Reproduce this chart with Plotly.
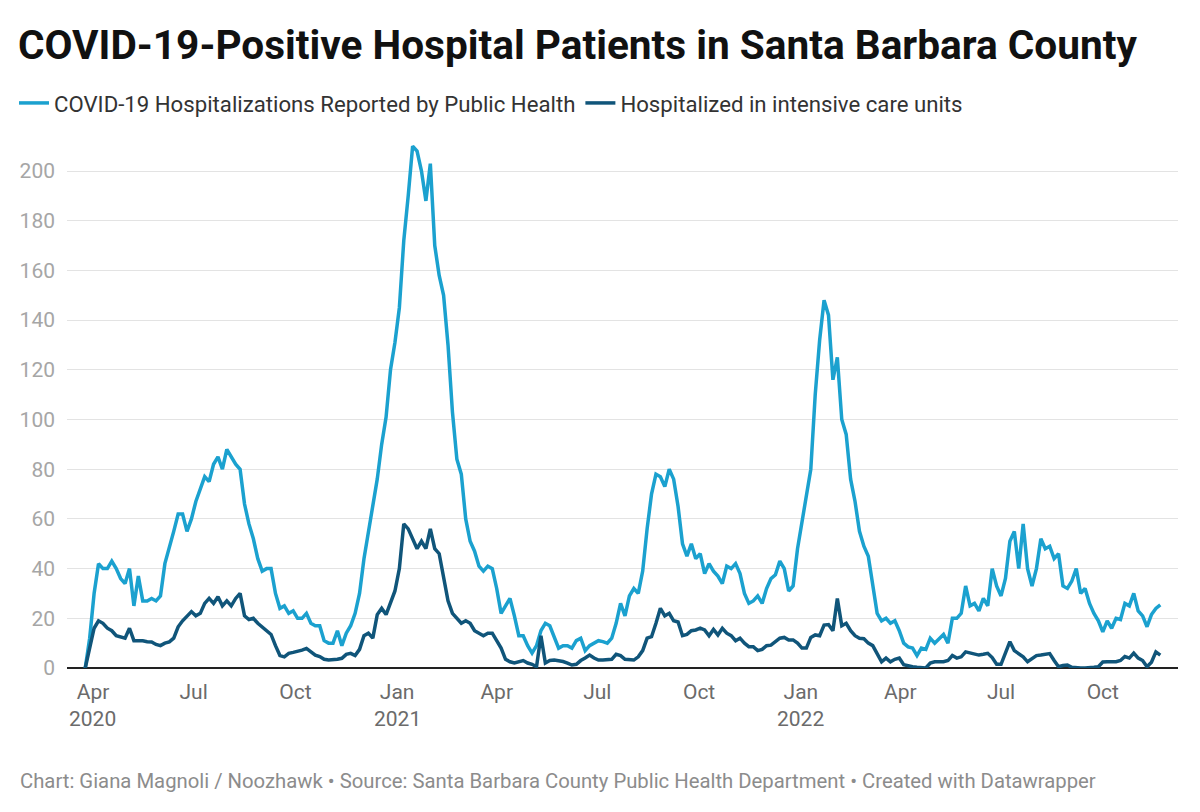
import pandas as pd
import plotly.graph_objects as go

# Dates every 4 days, from 2020-03-25 to 2022-11-22
dates = pd.date_range("2020-03-25", periods=244, freq="4D")

hospitalized = [
    0, 12, 30, 42, 40, 40, 43, 40, 36, 34,
    40, 25, 37, 27, 27, 28, 27, 29, 42, 48,
    55, 62, 62, 55, 60, 67, 72, 77, 75, 82,
    85, 80, 88, 85, 82, 80, 66, 58, 52, 44,
    39, 40, 40, 30, 24, 25, 22, 23, 20, 20,
    22, 18, 17, 17, 11, 10, 10, 15, 9, 14,
    17, 22, 30, 44, 55, 66, 76, 90, 101, 120,
    131, 145, 172, 190, 210, 208, 200, 188, 203, 170,
    158, 150, 130, 103, 84, 78, 60, 51, 47, 41,
    39, 41, 40, 32, 22, 25, 28, 21, 13, 13,
    9, 6, 9, 15, 18, 17, 12, 8, 9, 9,
    8, 11, 12, 7, 9, 10, 11, 10.6, 10, 12,
    18, 26, 21, 29, 32, 30, 39, 56, 70, 78,
    77, 73, 80, 76, 65, 50, 45, 50, 44, 46,
    38, 42, 39, 37, 34, 41, 40, 42, 38, 30,
    26, 27, 29, 26, 32, 36, 37.5, 43, 40, 31,
    33, 48, 59, 68, 80, 110, 132, 148, 142, 116,
    125, 100, 94, 76, 67, 55, 49, 45, 34, 22,
    19, 20, 18, 19, 15, 10, 8.5, 8, 5, 8,
    7.5, 12, 10, 12, 13.5, 10, 20, 20, 22, 33,
    25, 26, 23, 28, 25, 40, 33, 29, 36, 51,
    55, 40, 58, 40, 33, 40, 52, 48, 49, 44,
    46, 33, 32, 35, 40, 30, 32, 26, 22, 19,
    14.5, 19, 16, 20, 19.5, 26, 25, 30, 23, 21,
    16.6, 21.5, 24, 25.4,
]

icu = [
    0, 8, 16, 19, 18, 16, 15, 13, 12.6, 12,
    16, 11, 11, 11, 10.6, 10.5, 9.5, 9, 10, 10.5,
    12, 16.6, 19, 20.7, 22.7, 21, 22, 26, 28, 26,
    28.7, 25, 27, 25, 28, 30, 21, 19.5, 20, 18,
    16.5, 15, 13.5, 9, 5, 4.5, 5.9, 6.3, 6.6, 7.2,
    7.9, 6.5, 5.2, 4.6, 3.5, 3.2, 3.2, 3.5, 3.9, 5.5,
    5.9, 5, 7.5, 13, 14, 12, 21.5, 24, 21.5, 26,
    31, 40, 58, 56, 52, 48, 51, 48, 56, 48,
    46, 37, 27, 22, 20, 18, 19, 18, 15, 14,
    13, 14, 14, 11, 8, 3.5, 2.5, 2, 2.5, 3,
    2, 1.5, 0.5, 13, 2, 3, 3.2, 3, 2.6, 2,
    1.2, 1.5, 3, 4, 5.2, 4, 3.2, 3.2, 3.2, 3.5,
    5.5, 5, 3.5, 3.2, 3.2, 4.5, 7, 12, 12.6, 18,
    24, 21, 22, 19, 18.5, 13, 13.5, 15, 15.3, 16,
    15.3, 13, 15.5, 13.3, 16, 14, 13, 11, 12, 10,
    8.6, 8.6, 7, 7.5, 9, 9.2, 10.5, 12, 12.3, 11.3,
    11.3, 10, 8, 8, 12.3, 13.3, 13, 17.3, 17.5, 15,
    28, 17, 18, 15, 13, 12, 11.8, 10, 9, 6,
    2.5, 4, 2.5, 3.5, 4, 1.3, 0.8, 0.5, 0.3, 0,
    0, 2, 2.5, 2.5, 2.5, 3, 5, 4, 4.5, 6.5,
    6, 5.5, 5.2, 5.5, 5.9, 4.2, 1.5, 1.5, 6.5, 10.6,
    7, 5.9, 4.5, 2.5, 3.9, 5, 5.2, 5.5, 5.8, 3,
    0.5, 1, 1.2, 0.3, 0, 0, 0, 0, 0.3, 0.5,
    2.4, 2.5, 2.5, 2.5, 3, 4.6, 4, 6, 4, 3,
    0.5, 2.3, 6.5, 5.2,
]

series_names = ["COVID-19 Hospitalizations Reported by Public Health",
                "Hospitalized in intensive care units"]

tick_dates = ["2020-04-01", "2020-07-01", "2020-10-01", "2021-01-01",
              "2021-04-01", "2021-07-01", "2021-10-01", "2022-01-01",
              "2022-04-01", "2022-07-01", "2022-10-01"]
tick_labels = ["Apr", "Jul", "Oct", "Jan", "Apr", "Jul", "Oct", "Jan",
               "Apr", "Jul", "Oct"]
year_dates = ["2020-04-01", "2021-01-01", "2022-01-01"]
year_labels = ["2020", "2021", "2022"]
y_ticks = [0, 20, 40, 60, 80, 100, 120, 140, 160, 180, 200]

LIGHT = "#1ba1cf"
DARK = "#10557a"
FONT = "Roboto"

fig = go.Figure()
fig.add_trace(go.Scatter(x=dates, y=hospitalized, mode="lines", name=series_names[0],
                         line=dict(color=LIGHT, width=3.5)))
fig.add_trace(go.Scatter(x=dates, y=icu, mode="lines", name=series_names[1],
                         line=dict(color=DARK, width=3.5)))

# page has an 8px body margin; figure drawn 8px smaller to fit the window
OFF = 8
W, H = 1200 - OFF, 812 - OFF
L, R, T, B = 67 - OFF, 22, 140 - OFF, 144
pw, ph = W - L - R, H - T - B

def px_x(p):  # page pixel -> paper x
    return (p - OFF - L) / pw

def px_y(p):  # page pixel -> paper y
    return (H - B - (p - OFF)) / ph

annotations = []
for d, t in zip(year_dates, year_labels):
    annotations.append(dict(x=d, y=px_y(719), xref="x", yref="paper", text=t,
                            showarrow=False, xanchor="center", yanchor="middle",
                            font=dict(family=FONT, size=21, color="#6b6b6b")))
annotations.append(dict(
    x=px_x(18), y=px_y(781), xref="paper", yref="paper", xanchor="left", yanchor="middle",
    showarrow=False,
    text="Chart: Giana Magnoli / Noozhawk • Source: Santa Barbara County Public Health Department • Created with Datawrapper",
    font=dict(family=FONT, size=20.3, color="#8c8c8c")))

fig.update_layout(
    width=W, height=H,
    margin=dict(l=L, r=R, t=T, b=B),
    paper_bgcolor="white", plot_bgcolor="white",
    title=dict(text="<b>COVID-19-Positive Hospital Patients in Santa Barbara County</b>",
               x=(18 - OFF) / W, xanchor="left", xref="container",
               y=1 - (45 - OFF) / H, yanchor="middle", yref="container",
               font=dict(family=FONT, size=40.6, color="#111111")),
    legend=dict(orientation="h", xref="container", yref="container",
                x=(14 - OFF) / W, xanchor="left", y=1 - (103 - OFF) / H, yanchor="middle",
                font=dict(family=FONT, size=22.2, color="#333333"),
                itemwidth=30, tracegroupgap=0, bgcolor="rgba(0,0,0,0)"),
    showlegend=True,
    annotations=annotations,
    hovermode=False,
)

fig.update_xaxes(
    type="date", range=["2020-03-08 12:00", "2022-12-08"],
    tickvals=tick_dates, ticktext=tick_labels,
    showgrid=False, showline=False, zeroline=False,
    ticks="", ticklabelstandoff=9,
    tickfont=dict(family=FONT, size=21, color="#6b6b6b"),
)
fig.update_yaxes(
    range=[0, 212.5], tickvals=y_ticks,
    showgrid=True, gridcolor="#e3e3e3", gridwidth=1,
    zeroline=True, zerolinecolor="#222222", zerolinewidth=2,
    showline=False, ticks="", ticklabelstandoff=11,
    tickfont=dict(family=FONT, size=21, color="#a6a6a6"),
)

fig.write_html("out.html")
